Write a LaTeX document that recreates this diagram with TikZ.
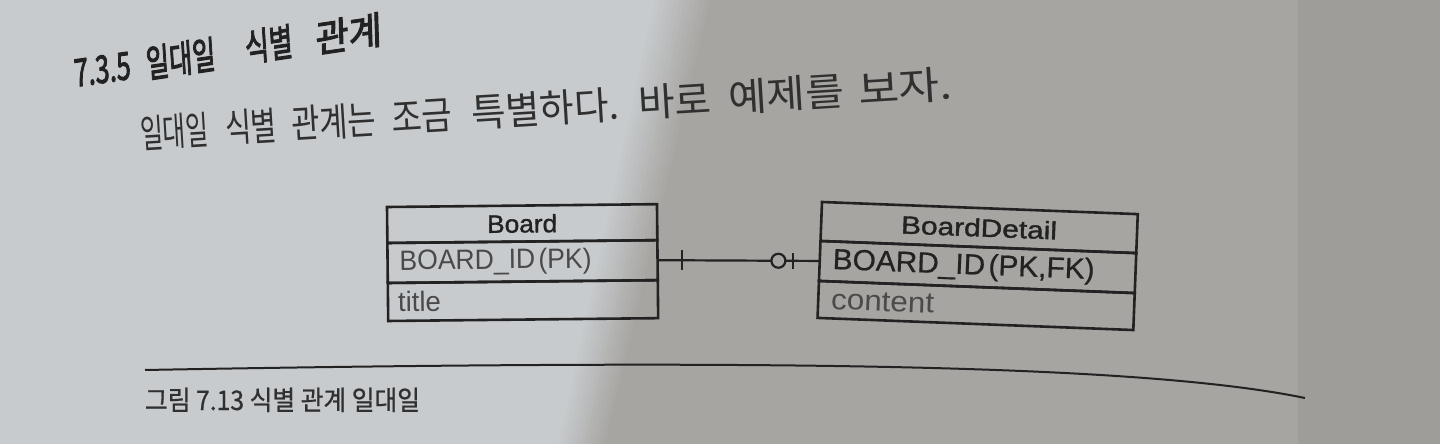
\documentclass[tikz,border=0pt]{standalone}
\usepackage{graphicx}
\usepackage{fontspec}
\setmainfont{Liberation Sans}
\newfontfamily\kr{Noto Sans CJK KR}
\newfontfamily\krhead[FakeBold=2.8,FakeSlant=0.12]{Noto Sans CJK KR}
\newfontfamily\krcap[FakeBold=0.8]{Noto Sans CJK KR}
\newfontfamily\tblb[FakeBold=1.3]{Liberation Sans}
\newfontfamily\tblm[FakeBold=0.6]{Liberation Sans}
\definecolor{bgL}{HTML}{C8CBCE}
\definecolor{bgD}{HTML}{A7A5A1}
\definecolor{bgE}{HTML}{9F9D9A}
\definecolor{ink}{HTML}{222222}
\definecolor{inkM}{HTML}{303030}
\definecolor{inkL}{HTML}{4A4A4A}
\newcommand{\fitw}[2]{\resizebox{#1pt}{\height}{#2}}
\begin{document}
\begin{tikzpicture}[x=1pt,y=-1pt,
  word/.style={anchor=base west,inner sep=0pt,outer sep=0pt},
  hword/.style={word,rotate=8.4,text=ink,font=\fontsize{38}{38}\selectfont\krhead},
  bword/.style={word,rotate=3.5,text=inkM,font=\fontsize{39}{39}\selectfont\kr},
  cell/.style={draw=ink,line width=2.6pt,minimum width=#1,text width=#1,
    inner xsep=0pt,inner ysep=0pt,outer sep=0pt,anchor=north west,transform shape},
  hcell/.style={cell=#1,align=center,text=ink},
  fcell/.style={cell=#1,align=left},
  rel/.style={draw=ink,line width=2.2pt}]
\useasboundingbox (0,0) rectangle (1440,444);
% --- photographed page: light part, shadow band, shaded part
\fill[bgL] (0,0) rectangle (1440,444);
\foreach \i in {0,...,11}{
  \pgfmathsetmacro{\mix}{100-\i*8.5}
  \fill[bgL!\mix!bgD] (650+5*\i,0) -- (655.5+5*\i,0) -- (559.6+4.2*\i,444) -- (555+4.2*\i,444) -- cycle;
}
\fill[bgD] (710,0) -- (1440,0) -- (1440,444) -- (605,444) -- cycle;
\fill[bgE] (1298,0) rectangle (1440,444);

% --- heading
\node[hword] (h1) at (75,87)  {\fitw{57}{7.3.5}};
\node[hword] (h2) at (147,78) {\fitw{70}{일대일}};
\node[hword] (h3) at (246,62) {\fitw{48}{식별}};
\node[hword] (h4) at (316,53) {\fitw{67}{관계}};

% --- body text
\node[bword] (t1) at (141,148)   {\fitw{69}{일대일}};
\node[bword] (t2) at (226,142.8) {\fitw{52}{식별}};
\node[bword] (t3) at (292,138.8) {\fitw{85}{관계는}};
\node[bword] (t4) at (392,132.7) {\fitw{61}{조금}};
\node[bword] (t5) at (472,127.8) {\fitw{148}{특별하다.}};
\node[bword] (t6) at (639,117.6) {\fitw{73}{바로}};
\node[bword] (t7) at (729,112.1) {\fitw{116}{예제를}};
\node[bword] (t8) at (859,104.2) {\fitw{94}{보자.}};

% --- Board table
\begin{scope}[shift={(387,207)},rotate=0.6]
  \node[hcell=270pt,minimum height=36pt] (bH) at (0,0)
    {\fontsize{25}{25}\selectfont\tblb\fitw{70}{Board}};
  \node[fcell=270pt,minimum height=40pt,text=inkL] (bPK) at (bH.south west)
    {\hspace*{12pt}\fontsize{28}{28}\selectfont\fitw{192}{BOARD\_ID (PK)}};
  \node[fcell=270pt,minimum height=38pt,text=inkL] (bT) at (bPK.south west)
    {\hspace*{10pt}\fontsize{28}{28}\selectfont\fitw{43}{title}};
\end{scope}

% --- BoardDetail table
\begin{scope}[shift={(822,202)},rotate=-2.2]
  \node[hcell=316pt,minimum height=39pt] (dH) at (0,0)
    {\fontsize{25}{25}\selectfont\tblb\fitw{156}{BoardDetail}};
  \node[fcell=316pt,minimum height=40pt,text=ink] (dPK) at (dH.south west)
    {\hspace*{13pt}\fontsize{29}{29}\selectfont\tblm\fitw{262}{BOARD\_ID (PK,FK)}};
  \node[fcell=316pt,minimum height=37pt,text=inkL] (dC) at (dPK.south west)
    {\hspace*{13pt}\fontsize{29}{29}\selectfont\fitw{103}{content}};
\end{scope}

% --- identifying one-to-one relationship (exactly one : zero or one)
\path (bPK.east) -- (dPK.west)
  coordinate[pos=0.152] (barL)
  coordinate[pos=0.745] (circ)
  coordinate[pos=0.836] (barR);
\draw[rel] (bPK.east) -- (dPK.west);
\draw[rel] ([yshift=-10pt]barL) -- ([yshift=10pt]barL);
\draw[rel] ([yshift=-8pt]barR) -- ([yshift=8pt]barR);
\filldraw[rel,fill=bgD] (circ) circle (7pt);

% --- figure rule and caption
\draw[ink,line width=2pt] (145,370) .. controls (800,358) and (1150,366) .. (1305,398);
\node[word,text=inkM] (cap) at (145,410)
  {\fontsize{27}{27}\selectfont\krcap\fitw{275}{그림 7.13 식별 관계 일대일}};
\end{tikzpicture}
\end{document}
